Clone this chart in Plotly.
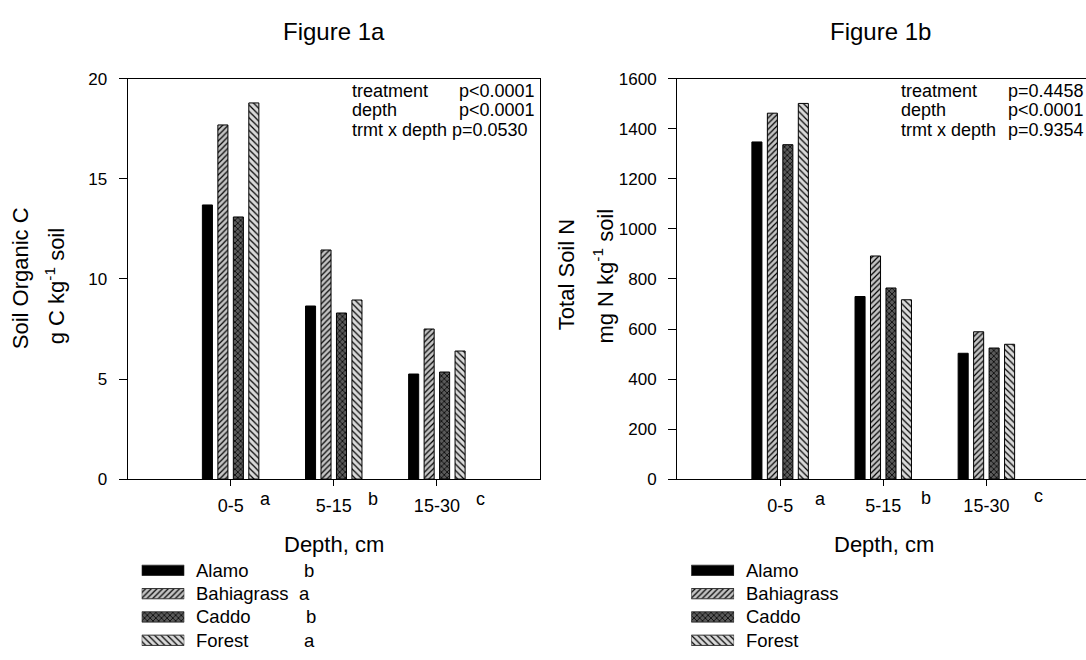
import plotly.graph_objects as go

W, H = 1086, 660

# ---------------- data ----------------
depths = ['0-5', '5-15', '15-30']
treatments = ['Alamo', 'Bahiagrass', 'Caddo', 'Forest']

soc_alamo = [13.7, 8.65, 5.25]
soc_bahiagrass = [17.7, 11.45, 7.5]
soc_caddo = [13.1, 8.3, 5.35]
soc_forest = [18.8, 8.95, 6.4]

tn_alamo = [1348, 730, 503]
tn_bahiagrass = [1463, 892, 589]
tn_caddo = [1337, 764, 524]
tn_forest = [1502, 717, 539]

depth_letters = ['a', 'b', 'c']
soc_treatment_letters = ['b', 'a', 'b', 'a']

soc_stats_labels = ['treatment', 'depth', 'trmt x depth p=0.0530']
soc_stats_values = ['p<0.0001', 'p<0.0001', '']
tn_stats_labels = ['treatment', 'depth', 'trmt x depth']
tn_stats_values = ['p=0.4458', 'p<0.0001', 'p=0.9354']

# ---------------- styles ----------------
FONT = 'Liberation Sans, Arial, sans-serif'
bar_bg = ['#000000', '#c4c4c4', '#5a5a5a', '#d9d9d9']
bar_shape = ['', '/', 'x', '\\']
bar_size = [4, 4, 4, 4.5]
bar_solid = [0.3, 0.3, 0.35, 0.27]


def px(x):
    return x / W


def py(y):
    return 1 - y / H


def marker_style(i, line_color='black'):
    return dict(color=bar_bg[i], line=dict(color=line_color, width=1),
                pattern=dict(shape=bar_shape[i], bgcolor=bar_bg[i], fgcolor='black',
                             size=bar_size[i], solidity=bar_solid[i], fillmode='replace'))


fig = go.Figure()
xi = list(range(len(depths)))


def add_panel(series, xa, ya):
    for i, (name, vals) in enumerate(zip(treatments, series)):
        fig.add_trace(go.Bar(x=xi, y=vals, name=name, xaxis=xa, yaxis=ya,
                             showlegend=False, marker=marker_style(i)))


add_panel([soc_alamo, soc_bahiagrass, soc_caddo, soc_forest], 'x', 'y')
add_panel([tn_alamo, tn_bahiagrass, tn_caddo, tn_forest], 'x2', 'y2')

# custom legend swatches: one horizontal bar per treatment on small hidden axes
for xa, ya in (('x3', 'y3'), ('x4', 'y4')):
    for i, name in enumerate(treatments):
        fig.add_trace(go.Bar(x=[1], y=[i], orientation='h', width=0.44, offset=-0.22,
                             name=name, xaxis=xa, yaxis=ya, showlegend=False, hoverinfo='skip',
                             marker=marker_style(i, '#333333')))

unit = (540 - 127.5) / 4.0
axis_common = dict(showgrid=False, zeroline=False, showline=True, linecolor='black', linewidth=1,
                   ticks='outside', tickcolor='black', tickwidth=1)
leg_range = [(660 - 566) / 24 - 0.5, -0.5]

layout = dict(
    width=W, height=H, margin=dict(l=0, r=0, t=0, b=0),
    paper_bgcolor='white', plot_bgcolor='white',
    font=dict(family=FONT, color='black'),
    barmode='group', bargap=0.4, bargroupgap=0.35,
    xaxis=dict(domain=[px(127.5), px(540)], range=[-1, 3], tickvals=xi, ticktext=depths,
               anchor='y', mirror=True, ticklen=6, tickfont=dict(size=18), ticklabelstandoff=4,
               **axis_common),
    yaxis=dict(domain=[py(484), py(72)], range=[0, 20], dtick=5, anchor='x', mirror=True,
               ticklen=8, tickfont=dict(size=17), ticklabelstandoff=8, **axis_common),
    xaxis2=dict(domain=[px(677), 1.0], range=[-1, -1 + (W - 677) / unit], tickvals=xi,
                ticktext=depths, anchor='y2', mirror=True, ticklen=6, tickfont=dict(size=18),
                ticklabelstandoff=4, **axis_common),
    yaxis2=dict(domain=[py(484), py(72)], range=[0, 1600], dtick=200, anchor='x2', mirror=False,
                ticklen=8, tickfont=dict(size=17), ticklabelstandoff=8, **axis_common),
    xaxis3=dict(domain=[px(141.7), px(184.3)], range=[0, 1], visible=False, anchor='y3', fixedrange=True),
    yaxis3=dict(domain=[0, py(566)], range=leg_range, visible=False, anchor='x3', fixedrange=True),
    xaxis4=dict(domain=[px(691.2), px(734.1)], range=[0, 1], visible=False, anchor='y4', fixedrange=True),
    yaxis4=dict(domain=[0, py(566)], range=leg_range, visible=False, anchor='x4', fixedrange=True),
)
fig.update_layout(**layout)

ann = []


def text(t, x, y, size, xanchor='center', yanchor='middle', angle=0):
    ann.append(dict(text=t, x=px(x), y=py(y), xref='paper', yref='paper', showarrow=False,
                    xanchor=xanchor, yanchor=yanchor, textangle=angle,
                    font=dict(size=size, family=FONT, color='black')))


# titles
text('Figure 1a', 333.8, 23.5, 24)
text('Figure 1b', 880, 23.5, 24)
# x-axis titles
text('Depth, cm', 333.6, 551, 22)
text('Depth, cm', 883.7, 551, 22)
# y-axis titles
text('Soil Organic C', 20.7, 277.5, 22, angle=-90)
text('g C kg<sup>-1</sup> soil', 54.5, 286, 22, angle=-90)
text('Total Soil N', 566.5, 273.5, 22, angle=-90)
text('mg N kg<sup>-1</sup> soil', 603.5, 275, 22, angle=-90)

# depth significance letters
for lx, ly, l in zip([265, 372.5, 480.5], [505, 505, 505], depth_letters):
    text(l, lx, ly, 18)
for lx, ly, l in zip([820, 925.6, 1038.6], [505, 503, 501.5], depth_letters):
    text(l, lx, ly, 18)

# stats
for k, (lab, val) in enumerate(zip(soc_stats_labels, soc_stats_values)):
    yc = 84.5 + 20 * k
    text(lab, 350, yc, 18, xanchor='left')
    if val:
        text(val, 456.5, yc, 18, xanchor='left')
for k, (lab, val) in enumerate(zip(tn_stats_labels, tn_stats_values)):
    yc = 84.5 + 20 * k
    text(lab, 898.5, yc, 18, xanchor='left')
    text(val, 1005.5, yc, 18, xanchor='left')

# legend labels
rows = [578, 602, 626, 650]
for k, name in enumerate(treatments):
    text(name, 194.5, rows[k], 18.5, xanchor='left')
    text(name, 743.7, rows[k], 18.5, xanchor='left')
for k, (lx, l) in enumerate(zip([302.3, 296.7, 304, 302.3], soc_treatment_letters)):
    text(l, lx, rows[k], 18.5, xanchor='left')

fig.update_layout(annotations=ann)
fig.write_html('out.html')
